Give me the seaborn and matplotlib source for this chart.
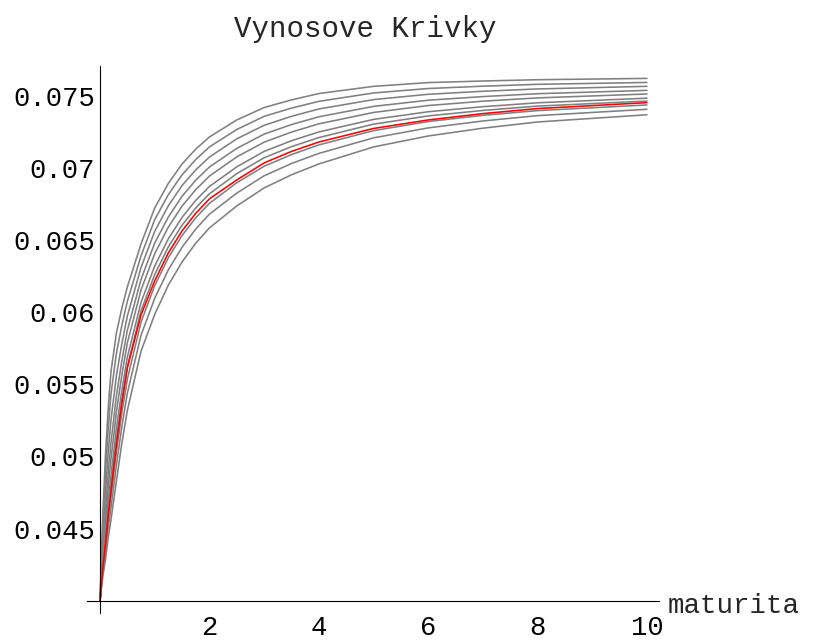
import matplotlib
matplotlib.use("Agg")
import numpy as np
import pandas as pd
import seaborn as sns
import matplotlib.pyplot as plt
from matplotlib.ticker import FixedLocator, NullFormatter

# ---- data ----
maturity = [0, 0.05, 0.1, 0.15, 0.2, 0.3, 0.4, 0.5, 0.75, 1, 1.25, 1.5, 1.75, 2, 2.5, 3, 3.5, 4, 5, 6, 7, 8, 10]

gray1 = [0.04, 0.04587, 0.05012, 0.05334, 0.05587, 0.05857, 0.06029, 0.06175, 0.06473, 0.06722, 0.06893, 0.07027,
         0.07130, 0.07214, 0.07332, 0.07418, 0.07471, 0.07515, 0.07565, 0.07591, 0.07602, 0.07611, 0.07620]
gray2 = [0.04, 0.04517, 0.04891, 0.05193, 0.05431, 0.05716, 0.05910, 0.06076, 0.06391, 0.06641, 0.06815, 0.06952,
         0.07058, 0.07145, 0.07266, 0.07357, 0.07414, 0.07461, 0.07519, 0.07550, 0.07566, 0.07579, 0.07592]
gray3 = [0.04, 0.04433, 0.04747, 0.05030, 0.05252, 0.05561, 0.05784, 0.05974, 0.06310, 0.06560, 0.06738, 0.06878,
         0.06986, 0.07075, 0.07201, 0.07295, 0.07357, 0.07408, 0.07473, 0.07510, 0.07531, 0.07547, 0.07565]
gray4 = [0.04, 0.04364, 0.04627, 0.04890, 0.05097, 0.05421, 0.05666, 0.05875, 0.06228, 0.06479, 0.06660, 0.06803,
         0.06915, 0.07006, 0.07135, 0.07234, 0.07300, 0.07354, 0.07426, 0.07469, 0.07494, 0.07514, 0.07537]
gray5 = [0.04, 0.04313, 0.04540, 0.04786, 0.04980, 0.05309, 0.05568, 0.05788, 0.06154, 0.06405, 0.06590, 0.06735,
         0.06849, 0.06943, 0.07076, 0.07178, 0.07248, 0.07305, 0.07384, 0.07432, 0.07462, 0.07485, 0.07512]
gray6 = [0.04, 0.04269, 0.04463, 0.04690, 0.04868, 0.05195, 0.05462, 0.05690, 0.06068, 0.06320, 0.06509, 0.06657,
         0.06775, 0.06871, 0.07007, 0.07114, 0.07188, 0.07249, 0.07336, 0.07389, 0.07424, 0.07451, 0.07483]
gray7 = [0.04, 0.04243, 0.04419, 0.04632, 0.04800, 0.05122, 0.05393, 0.05624, 0.06009, 0.06261, 0.06453, 0.06603,
         0.06722, 0.06820, 0.06960, 0.07070, 0.07147, 0.07210, 0.07303, 0.07360, 0.07398, 0.07428, 0.07463]
gray8 = [0.04, 0.04216, 0.04372, 0.04569, 0.04723, 0.05033, 0.05305, 0.05537, 0.05931, 0.06184, 0.06378, 0.06531,
         0.06654, 0.06754, 0.06897, 0.07011, 0.07092, 0.07159, 0.07258, 0.07321, 0.07364, 0.07397, 0.07436]
gray9 = [0.04, 0.04191, 0.04329, 0.04506, 0.04645, 0.04940, 0.05210, 0.05440, 0.05841, 0.06096, 0.06294, 0.06450,
         0.06576, 0.06679, 0.06825, 0.06945, 0.07030, 0.07100, 0.07208, 0.07277, 0.07325, 0.07362, 0.07406]
gray10 = [0.04, 0.04165, 0.04285, 0.04439, 0.04560, 0.04830, 0.05095, 0.05320, 0.05730, 0.05985, 0.06188, 0.06348,
          0.06478, 0.06584, 0.06736, 0.06861, 0.06952, 0.07027, 0.07145, 0.07221, 0.07275, 0.07318, 0.07368]

red_curve = [0.04, 0.04226, 0.04389, 0.04595, 0.04756, 0.05081, 0.05369, 0.05614, 0.05981, 0.06217, 0.06411, 0.06563,
             0.06685, 0.06785, 0.06916, 0.07034, 0.07114, 0.07179, 0.07273, 0.07332, 0.07376, 0.07411, 0.07452]

y_ticks = [0.045, 0.05, 0.055, 0.06, 0.065, 0.07, 0.075]
y_tick_labels = ["0.045", "0.05", "0.055", "0.06", "0.065", "0.07", "0.075"]
x_ticks = [2, 4, 6, 8, 10]
x_tick_labels = ["2", "4", "6", "8", "10"]
title_text = "Vynosove Krivky"
x_label_text = "maturita"

# ---- style ----
sns.set_style("white")
plt.rcParams['font.family'] = ['Liberation Mono', 'DejaVu Sans Mono', 'DejaVu Sans']

gray_curves = [gray1, gray2, gray3, gray4, gray5, gray6, gray7, gray8, gray9, gray10]
df = pd.DataFrame({
    "maturita": np.tile(maturity, len(gray_curves)),
    "vynos": np.concatenate(gray_curves),
    "krivka": np.repeat(np.arange(len(gray_curves)), len(maturity)),
})
df_red = pd.DataFrame({"maturita": maturity, "vynos": red_curve})

fig = plt.figure(figsize=(8.18, 6.4), dpi=100)
ax = fig.add_axes([86.9 / 818, 27 / 640, 572.1 / 818, 547 / 640])

sns.lineplot(data=df, x="maturita", y="vynos", units="krivka", estimator=None,
             color="#808080", linewidth=1.15, ax=ax)
sns.lineplot(data=df_red, x="maturita", y="vynos", color="#ff0000",
             linewidth=1.15, ax=ax)

ax.set_xlim(-0.24, 10.22)
ax.set_ylim(0.03915, 0.07706)

for s in ("top", "right"):
    ax.spines[s].set_visible(False)
ax.spines["left"].set_position(("data", 0))
ax.spines["bottom"].set_position(("data", 0.04))
for s in ("left", "bottom"):
    ax.spines[s].set_color("black")
    ax.spines[s].set_linewidth(0.8)

ax.yaxis.set_major_locator(FixedLocator(y_ticks))
ax.set_yticklabels(y_tick_labels)
y_minor = [round(0.041 + 0.001 * k, 3) for k in range(37)]
y_minor = [v for v in y_minor if all(abs(v - m) > 1e-9 for m in y_ticks)]
ax.yaxis.set_minor_locator(FixedLocator(y_minor))
ax.yaxis.set_minor_formatter(NullFormatter())

ax.xaxis.set_major_locator(FixedLocator(x_ticks))
ax.set_xticklabels(x_tick_labels)
x_minor = [0.5 * k for k in range(1, 21) if (0.5 * k) not in x_ticks]
ax.xaxis.set_minor_locator(FixedLocator(x_minor))
ax.xaxis.set_minor_formatter(NullFormatter())

ax.tick_params(axis="both", which="major", direction="in", length=3.3, width=0.8,
               color="black", labelsize=19.6, labelcolor="black")
ax.tick_params(axis="both", which="minor", direction="in", length=1.9, width=0.8,
               color="black")
ax.tick_params(axis="y", which="major", pad=3.6)
ax.tick_params(axis="x", which="major", pad=10.5)

ax.set_ylabel("")
ax.set_xlabel(x_label_text, fontsize=19.8, ha="left", va="baseline")
ax.xaxis.set_label_coords((668 - 86.9) / 572.1, (640 - 613 - 27) / 547)

ax.set_title(title_text, fontsize=21, x=(365 - 86.9) / 572.1,
             y=(640 - 45 - 27) / 547, va="baseline", ha="center")
ax.grid(False)

fig.savefig("out.png", dpi=100)
